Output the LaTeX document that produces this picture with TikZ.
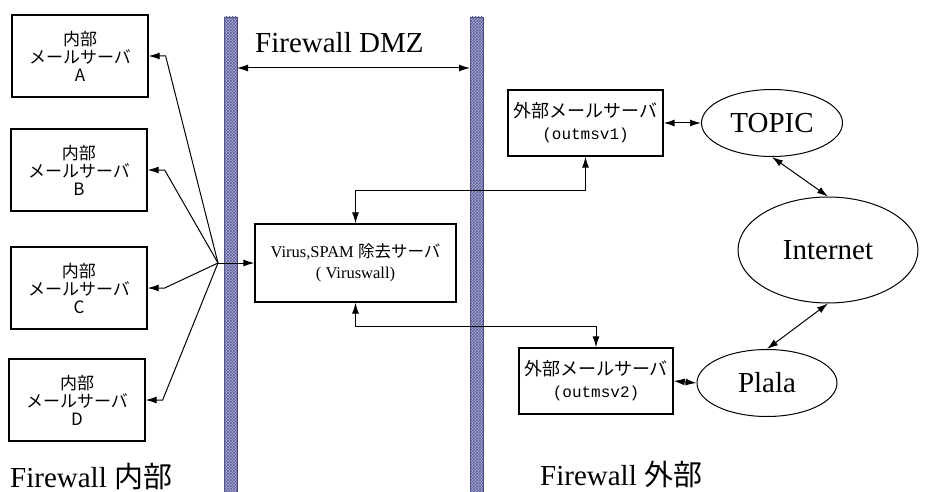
\documentclass[tikz,border=0pt]{standalone}
\usepackage{fontspec}
\setmainfont{Liberation Serif}
\newfontfamily\jp{Noto Sans CJK JP}
\newfontfamily\monof{Liberation Mono}
\usetikzlibrary{arrows.meta,patterns,shapes.geometric,calc}
\definecolor{fwfill}{RGB}{175,175,215}
\definecolor{fwline}{RGB}{70,70,120}
\definecolor{fwhatch}{RGB}{90,90,150}
\tikzset{
  inbox/.style={draw, line width=1.3pt, inner sep=0pt, minimum width=136pt, minimum height=82pt,
    align=center, font=\jp\fontsize{17}{18}\selectfont},
  srvbox/.style={draw, line width=1.3pt, inner sep=0pt, align=center},
  cloud/.style={draw, ellipse, line width=1pt, inner sep=0pt, font=\fontsize{29}{32}\selectfont},
  title/.style={anchor=base west, inner sep=0pt, font=\fontsize{29}{32}\selectfont},
  conn/.style={line width=1pt, {Latex[length=11pt,width=7pt]}-{Latex[length=11pt,width=7pt]}},
  arr/.style={line width=1pt, -{Latex[length=11pt,width=7pt]}},
  fw/.style={draw=fwline, line width=0.8pt, fill=fwfill, postaction={pattern=crosshatch, pattern color=fwhatch}}
}
\begin{document}
\begin{tikzpicture}[x=1pt,y=-1pt]
\useasboundingbox (0,0) rectangle (928,492);
\fill[white] (0,0) rectangle (928,492);
% firewalls
\path[fw] (224,17) rectangle (237,492);
\path[fw] (470,17) rectangle (483,492);
% titles
\node[title] (tdmz) at (255,53) {Firewall DMZ};
\node[title] (tin) at (10,487) {Firewall {\jp 内部}};
\node[title] (tout) at (540,485) {Firewall {\jp 外部}};
\coordinate (fwl) at (237,68);
\coordinate (fwr) at (470,68);
\draw[conn] (fwl) -- (fwr);
% internal servers
\node[inbox] (A) at (80,56) {内部\\メールサーバ\\A};
\node[inbox] (B) at (79,170) {内部\\メールサーバ\\B};
\node[inbox] (C) at (79,288) {内部\\メールサーバ\\C};
\node[inbox] (D) at (77,400) {内部\\メールサーバ\\D};
% virus server
\node[srvbox, minimum width=201pt, minimum height=78pt, font=\fontsize{16.5}{21}\selectfont] (vir) at (355.5,263)
  {Virus,SPAM {\jp 除去サーバ}\\( Viruswall)};
% external mail servers
\node[srvbox, minimum width=155pt, minimum height=66pt, font=\fontsize{16}{22}\selectfont] (om1) at (585.5,123)
  {{\jp\fontsize{18}{22}\selectfont 外部メールサーバ}\\{\monof (outmsv1)}};
\node[srvbox, minimum width=154pt, minimum height=66pt, font=\fontsize{16}{22}\selectfont] (om2) at (596,381)
  {{\jp\fontsize{18}{22}\selectfont 外部メールサーバ}\\{\monof (outmsv2)}};
% clouds
\node[cloud, minimum width=141pt, minimum height=67pt] (topic) at (772,123) {TOPIC};
\node[cloud, minimum width=180pt, minimum height=106pt] (inet) at (828,250) {Internet};
\node[cloud, minimum width=140pt, minimum height=67pt] (plala) at (767,383) {Plala};
% hub connections
\coordinate (hub) at (218,263);
\draw[arr] (hub) -- ($(A.east)+(17,0)$) -- (A.east);
\draw[arr] (hub) -- ($(B.east)+(17,0)$) -- (B.east);
\draw[arr] (hub) -- ($(C.east)+(17,0)$) -- (C.east);
\draw[arr] (hub) -- ($(D.east)+(17,0)$) -- (D.east);
\draw[arr] (hub) -- (vir.west);
% virus <-> external
\draw[conn] (om1.south) -- ++(0,34) -| (vir.north);
\draw[conn] (vir.south) -- ++(0,24) -| (om2.north);
% external <-> isp
\draw[conn] (om1.east) -- (topic.west);
\draw[conn] (om2.east) -- (plala.west);
\draw[conn] (topic.south) -- (inet.north);
\draw[conn] (inet.south) -- (plala.north);
\end{tikzpicture}
\end{document}
